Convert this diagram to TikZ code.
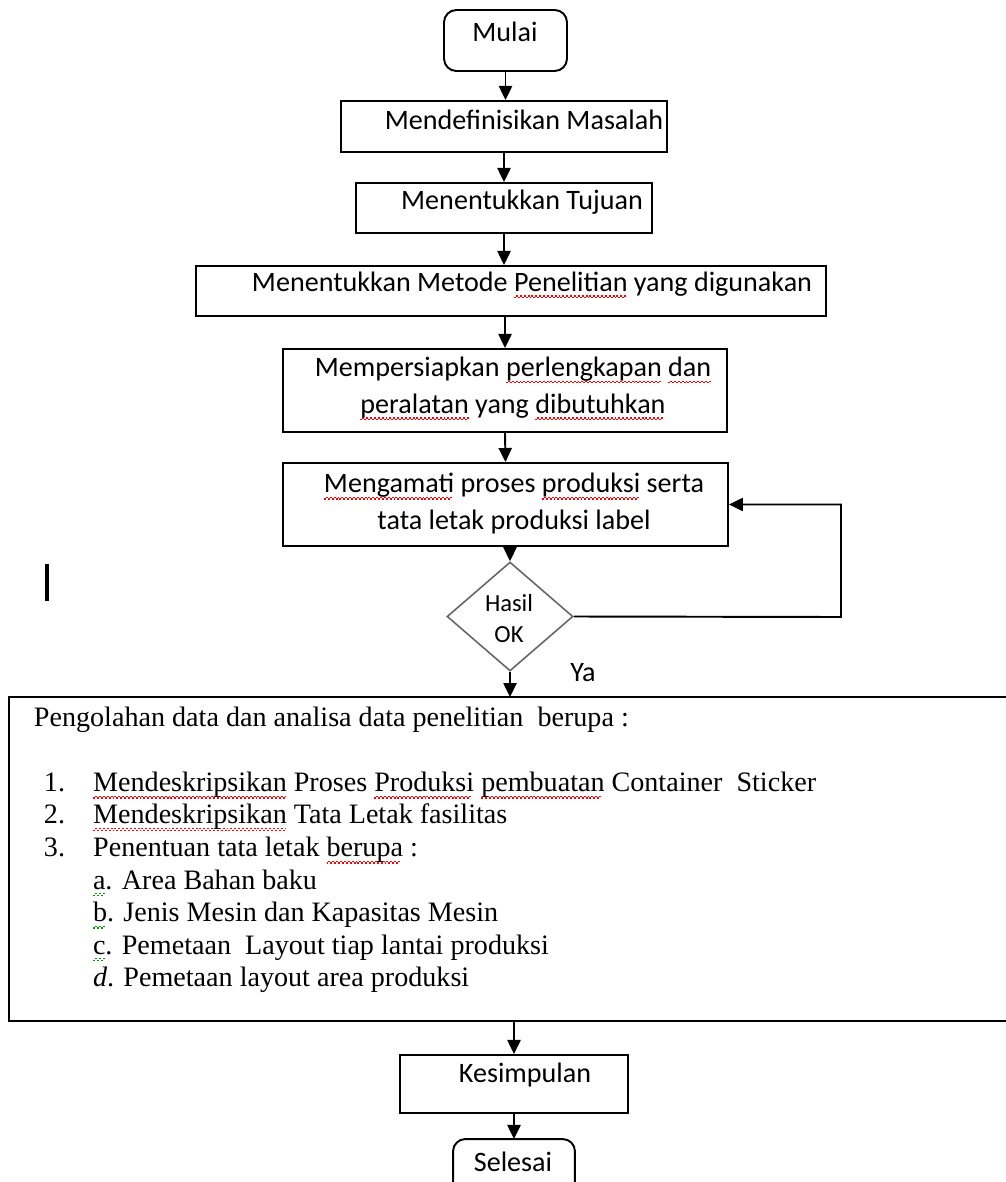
\documentclass[tikz,border=0pt]{standalone}
\usepackage{fontspec}
\setmainfont{Carlito}
\newfontfamily\timesfont{Liberation Serif}
\usetikzlibrary{shapes.geometric}
\usetikzlibrary{arrows.meta}

\newsavebox{\katabox}
\newcommand{\garisbawah}[2]{\sbox{\katabox}{#2}\rlap{\lower4pt\hbox to\wd\katabox{\color{#1}\leaders\hbox{\rule{1.1pt}{0.7pt}\rule[0.9pt]{1.1pt}{0.7pt}}\hfil}}\usebox{\katabox}}
\newcommand{\ejaan}[1]{\garisbawah{red}{#1}}
\newcommand{\tatabahasa}[1]{\garisbawah{green!60!black}{#1}}

\begin{document}
\begin{tikzpicture}[x=0.02cm,y=-0.02cm,line width=1.1pt,>={Triangle[length=8pt,width=7.5pt]},
	kotak/.style={draw,rectangle,inner sep=0pt},
	ujung/.style={kotak,rounded corners=7pt},
	teks/.style={font=\fontsize{16}{21}\selectfont,inner sep=0pt,align=center}]
					\useasboundingbox (0,0) rectangle (1005,1182);

					\node[ujung,minimum width=2.46cm,minimum height=1.22cm] (mulai) at (505.5,40.5) {};
					\node[teks] (mulai-t) at (505,32) {Mulai};

					\node[kotak,minimum width=6.52cm,minimum height=1.02cm] (definisi) at (504,126.5) {};
					\node[teks] (definisi-t) at (524,120) {Mendefinisikan Masalah};

					\node[kotak,minimum width=5.92cm,minimum height=1cm] (tujuan) at (504,208) {};
					\node[teks] (tujuan-t) at (522,202) {Menentukkan Tujuan};

					\node[kotak,minimum width=12.6cm,minimum height=1cm] (metode) at (511,291) {};
					\node[teks] (metode-t) at (532,285) {Menentukkan Metode \ejaan{Penelitian} yang digunakan};

					\node[kotak,minimum width=8.88cm,minimum height=1.66cm] (siap) at (505,390.5) {};
					\node[teks] (siap-t) at (513,388.5) {Mempersiapkan \ejaan{perlengkapan} \ejaan{dan}\\\ejaan{peralatan} yang \ejaan{dibutuhkan}};

					\node[kotak,minimum width=8.9cm,minimum height=1.66cm] (amati) at (505.5,504.5) {};
					\node[teks] (amati-t) at (514,503.5) {\ejaan{Mengamati} proses \ejaan{produksi} serta\\tata letak produksi label};

					\node[diamond,draw=black!60,line width=0.9pt,minimum width=2.52cm,minimum height=2.18cm,inner sep=0pt] (hasil) at (510,616.5) {};
					\node[teks,font=\fontsize{14}{17.6}\selectfont] (hasil-t) at (509,618.5) {Hasil\\OK};
					\node[teks] (ya) at (583,673) {Ya};
					\coordinate (balik) at (841,617);

					\draw[line width=1.8pt] (47,564) -- (47,601);

					\node[minimum width=19.9cm,minimum height=6.44cm,inner sep=0pt] (olah) at (507.5,859) {};
					\draw (olah.north east) -- (olah.north west) -- (olah.south west) -- (olah.south east);
					\node[anchor=north west,inner sep=0pt,align=left,font=\timesfont\fontsize{16}{18.5}\selectfont] (olah-t) at (33,706) {Pengolahan data dan analisa data penelitian\ \ berupa :\\[18.5pt]
						\hspace*{5.7pt}\makebox[28pt][l]{1.}\ejaan{Mendeskripsikan} Proses \ejaan{Produksi} \ejaan{pembuatan} Container\ \ Sticker\\
						\hspace*{5.7pt}\makebox[28pt][l]{2.}\ejaan{Mendeskripsikan} Tata Letak fasilitas\\
						\hspace*{5.7pt}\makebox[28pt][l]{3.}Penentuan tata letak \ejaan{berupa} :\\
						\hspace*{33.6pt}\tatabahasa{a}. Area Bahan baku\\
						\hspace*{33.6pt}\tatabahasa{b}. Jenis Mesin dan Kapasitas Mesin\\
						\hspace*{33.6pt}\tatabahasa{c}. Pemetaan\ \ Layout tiap lantai produksi\\
						\hspace*{33.6pt}\textit{d}. Pemetaan layout area produksi};

					\node[kotak,minimum width=4.56cm,minimum height=1.16cm] (simpul) at (514,1084) {};
					\node[teks] (simpul-t) at (525,1075) {Kesimpulan};

					\node[minimum width=2.4cm,minimum height=0.84cm,inner sep=0pt] (selesai) at (514,1161) {};
					\draw[rounded corners=7pt] (selesai.south west) -- (selesai.north west) -- (selesai.north east) -- (selesai.south east);
					\node[teks] (selesai-t) at (513,1162) {Selesai};

					\draw[->] (mulai.south) -- (mulai.south |- definisi.north);
					\draw[->] (definisi.south) -- (definisi.south |- tujuan.north);
					\draw[->] (tujuan.south) -- (tujuan.south |- metode.north);
					\draw[->] (metode.south -| siap) -- (siap.north);
					\draw[->] (siap.south) -- (amati.north);
					\draw[->] (hasil.north |- amati.south) -- (hasil.north);
					\draw[->] (hasil.east) -- (balik) |- (amati.east);
					\draw[->] (hasil.south) -- (hasil.south |- olah.north);
					\draw[->] (olah.south -| simpul) -- (simpul.north);
					\draw[->] (simpul.south) -- (selesai.north);
				\end{tikzpicture}
\end{document}
